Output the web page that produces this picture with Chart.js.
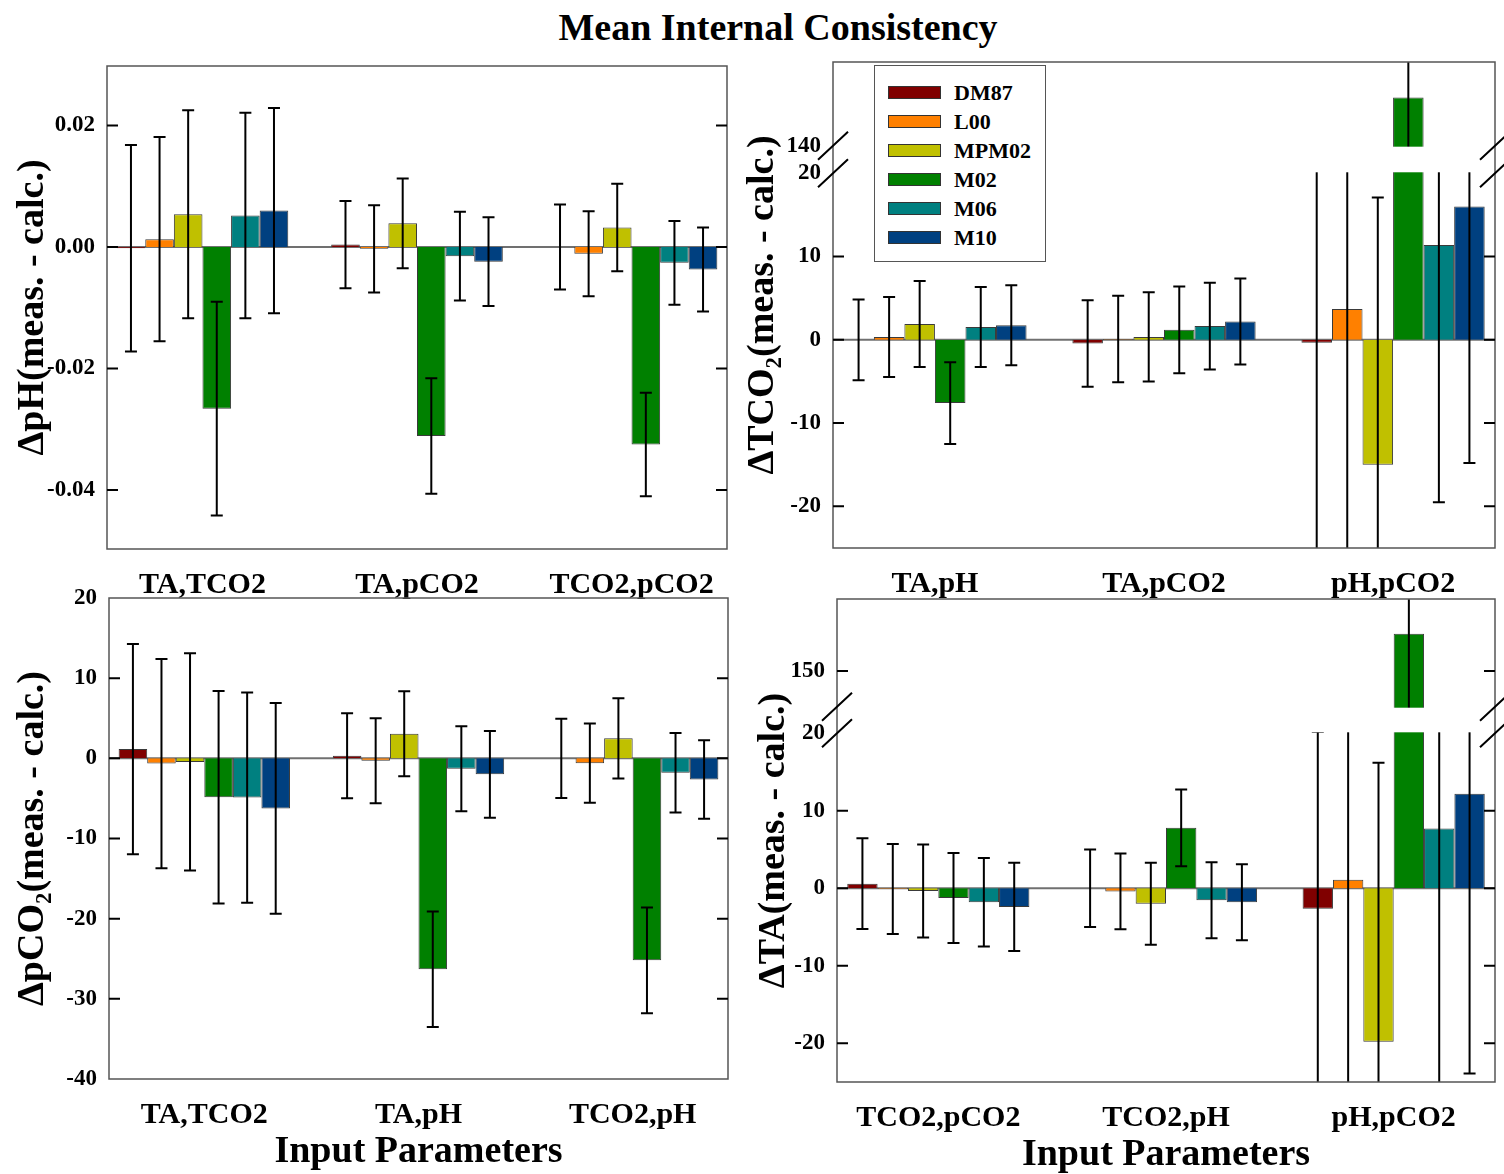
<!DOCTYPE html>
<html lang="en">
<head>
  <meta charset="UTF-8">
  <title>Mean Internal Consistency</title>
  <script src="https://cdn.jsdelivr.net/npm/chart.js"></script>
  <style>
    body {
      margin: 0;
      background: #fff;
      font-family: 'Liberation Serif', 'Times New Roman', serif;
    }
    #page {
      position: relative;
      width: 1504px;
      height: 1174px;
      overflow: hidden;
    }
    #page canvas {
      position: absolute;
    }
    #title {
      position: absolute;
      left: 528px;
      top: 8px;
      width: 500px;
      text-align: center;
      font-size: 38px;
      line-height: 38px;
      font-weight: bold;
    }
    /* legend box sits inside the top-right panel */
    #legend {
      position: absolute;
      left: 874px;
      top: 65px;
      width: 172px;
      height: 197px;
      border: 1px solid #555;
      box-sizing: border-box;
      padding-top: 12px;
      z-index: 5;
      background: #fff;
    }
    .row {
      height: 29px;
      display: flex;
      align-items: center;
      font-size: 22px;
      font-weight: bold;
    }
    .sw {
      display: inline-block;
      width: 51px;
      height: 11px;
      margin-left: 13px;
      margin-right: 13px;
      border: 1px solid #333;
    }
  </style>
</head>
<body>
<div id="page">
  <div id="title">Mean Internal Consistency</div>
  <canvas id="cPH" width="740" height="570" style="left:0;top:36px"></canvas>
  <canvas id="cTCO2" width="774" height="574" style="left:730px;top:32px"></canvas>
  <canvas id="cPCO2" width="740" height="606" style="left:0;top:568px"></canvas>
  <canvas id="cTA" width="774" height="605" style="left:730px;top:569px"></canvas>
  <div id="legend"></div>
</div>

<script>
  // ---- data (rows = series, columns = input parameter pairs) ----
  const series = ['DM87', 'L00', 'MPM02', 'M02', 'M06', 'M10'];
  const seriesColors = ['#800000', '#ff8000', '#c0c000', '#008000', '#008080', '#004080'];

  const phCats = ['TA,TCO2', 'TA,pCO2', 'TCO2,pCO2'];
  const phMean = [
    [-0.0002, 0.0004, 0.0000],
    [0.0013, -0.0003, -0.0011],
    [0.0054, 0.0039, 0.0032],
    [-0.0266, -0.0311, -0.0325],
    [0.0052, -0.0015, -0.0026],
    [0.0060, -0.0024, -0.0037]
  ];
  const phErr = [
    [0.0170, 0.0072, 0.0070],
    [0.0168, 0.0072, 0.0070],
    [0.0171, 0.0074, 0.0072],
    [0.0176, 0.0095, 0.0085],
    [0.0169, 0.0073, 0.0069],
    [0.0169, 0.0073, 0.0069]
  ];
  const phTicks = [-0.04, -0.02, 0, 0.02];
  const phTickLabels = ['-0.04', '-0.02', '0.00', '0.02'];

  const tco2Cats = ['TA,pH', 'TA,pCO2', 'pH,pCO2'];
  const tco2Mean = [
    [0.0, -0.45, -0.35],
    [0.33, 0.1, 3.7],
    [1.9, 0.35, -15.0],
    [-7.6, 1.2, 145.8],
    [1.55, 1.65, 11.4],
    [1.75, 2.2, 16.0]
  ];
  const tco2Err = [
    [4.85, 5.2, 30],
    [4.8, 5.2, 30],
    [5.15, 5.35, 32.1],
    [4.9, 5.2, 50],
    [4.8, 5.2, 30.9],
    [4.8, 5.15, 30.8]
  ];
  const tco2Ticks = [-20, -10, 0, 10, 20, 140];
  const tco2TickLabels = ['-20', '-10', '0', '10', '20', '140'];

  const pco2Cats = ['TA,TCO2', 'TA,pH', 'TCO2,pH'];
  const pco2Mean = [
    [1.15, 0.33, 0.0],
    [-0.65, -0.3, -0.6],
    [-0.45, 3.07, 2.5],
    [-4.85, -26.3, -25.2],
    [-4.9, -1.3, -1.8],
    [-6.25, -2.0, -2.65]
  ];
  const pco2Err = [
    [13.1, 5.3, 4.95],
    [13.05, 5.3, 4.95],
    [13.55, 5.3, 5.0],
    [13.25, 7.2, 6.6],
    [13.1, 5.3, 4.95],
    [13.15, 5.4, 4.9]
  ];
  const pco2Ticks = [-40, -30, -20, -10, 0, 10, 20];
  const pco2TickLabels = ['-40', '-30', '-20', '-10', '0', '10', '20'];

  const taCats = ['TCO2,pCO2', 'TCO2,pH', 'pH,pCO2'];
  const taMean = [
    [0.6, 0.0, -2.65],
    [-0.1, -0.4, 1.1],
    [-0.35, -2.0, -19.8],
    [-1.25, 7.8, 154.8],
    [-1.8, -1.55, 7.7],
    [-2.4, -1.8, 12.2]
  ];
  const taErr = [
    [5.85, 5.0, 30],
    [5.8, 4.9, 30],
    [6.0, 5.3, 36],
    [5.8, 4.95, 50],
    [5.7, 4.9, 35],
    [5.7, 4.9, 36.1]
  ];
  const taTicks = [-20, -10, 0, 10, 20, 150];
  const taTickLabels = ['-20', '-10', '0', '10', '20', '150'];

  Chart.defaults.font.family = "'Liberation Serif', 'Times New Roman', serif";
  Chart.defaults.color = '#000';

  // linear scale with a gap between a low and a high section (same units per pixel)
  class BrokenLinearScale extends Chart.LinearScale {
    _parts() {
      const b = this.options.brk;
      const units = (b.lowMax - this.min) + (this.max - b.highMin);
      const k = (this.bottom - this.top - b.gap) / units;
      return { b, k, pLow: this.bottom - (b.lowMax - this.min) * k, pHigh: this.top + (this.max - b.highMin) * k };
    }
    getPixelForValue(value) {
      if (value === null || isNaN(value)) return NaN;
      const { b, k, pLow, pHigh } = this._parts();
      if (value <= b.lowMax) return this.bottom - (value - this.min) * k;
      if (value >= b.highMin) return this.top + (this.max - value) * k;
      return pLow + (pHigh - pLow) * (value - b.lowMax) / (b.highMin - b.lowMax);
    }
    getValueForPixel(pixel) {
      const { b, k, pLow, pHigh } = this._parts();
      if (pixel >= pLow) return this.min + (this.bottom - pixel) / k;
      if (pixel <= pHigh) return this.max - (pixel - this.top) / k;
      return b.lowMax + (b.highMin - b.lowMax) * (pLow - pixel) / (pLow - pHigh);
    }
  }
  BrokenLinearScale.id = 'brokenLinear';
  BrokenLinearScale.defaults = Chart.LinearScale.defaults;
  Chart.register(BrokenLinearScale);

  // zero line, error bars, frame, inner ticks and break marks
  const panelDecor = {
    id: 'panelDecor',
    beforeDatasetsDraw(chart) {
      const { ctx, chartArea: a, scales: { y } } = chart;
      const z = y.getPixelForValue(0);
      ctx.save();
      ctx.strokeStyle = '#707070';
      ctx.lineWidth = 2;
      ctx.beginPath();
      ctx.moveTo(a.left, z);
      ctx.lineTo(a.right, z);
      ctx.stroke();
      ctx.restore();
    },
    afterDatasetsDraw(chart) {
      const { ctx, chartArea: a, scales: { y } } = chart;
      const b = y.options.brk;
      ctx.save();
      ctx.beginPath();
      ctx.rect(a.left, a.top, a.right - a.left, a.bottom - a.top);
      ctx.clip();
      ctx.strokeStyle = '#000';
      ctx.lineWidth = 2;
      chart.data.datasets.forEach((ds, d) => {
        chart.getDatasetMeta(d).data.forEach((bar, i) => {
          const v = ds.data[i].y, e = ds.errors[i];
          const hi = y.getPixelForValue(v + e), lo = y.getPixelForValue(v - e);
          ctx.beginPath();
          ctx.moveTo(bar.x, hi); ctx.lineTo(bar.x, lo);
          ctx.moveTo(bar.x - 6, hi); ctx.lineTo(bar.x + 6, hi);
          ctx.moveTo(bar.x - 6, lo); ctx.lineTo(bar.x + 6, lo);
          ctx.stroke();
        });
      });
      if (b) {
        const p1 = y.getPixelForValue(b.highMin), p2 = y.getPixelForValue(b.lowMax);
        ctx.fillStyle = '#fff';
        ctx.fillRect(a.left, p1 + 1, a.right - a.left, p2 - p1 - 2);
      }
      ctx.restore();

      ctx.save();
      ctx.strokeStyle = '#555';
      ctx.lineWidth = 1.5;
      ctx.strokeRect(a.left, a.top, a.right - a.left, a.bottom - a.top);
      ctx.strokeStyle = '#000';
      ctx.lineWidth = 2;
      ctx.beginPath();
      y.ticks.forEach(t => {
        if (b && (t.value === b.lowMax || t.value === b.highMin)) return;
        const py = y.getPixelForValue(t.value);
        if (py <= a.top + 1 || py >= a.bottom - 1) return;
        ctx.moveTo(a.left, py); ctx.lineTo(a.left + 11, py);
        ctx.moveTo(a.right - 11, py); ctx.lineTo(a.right, py);
      });
      if (b) {
        [b.highMin, b.lowMax].forEach(v => {
          const py = y.getPixelForValue(v);
          [a.left, a.right].forEach(px => {
            ctx.moveTo(px - 15, py + 14);
            ctx.lineTo(px + 15, py - 14);
          });
        });
      }
      ctx.stroke();
      ctx.restore();
    }
  };

  function makePanel(id, p) {
    const datasets = series.map((name, s) => ({
      label: name,
      data: p.cats.map((c, i) => ({ x: i, y: p.mean[s][i] })),
      errors: p.err[s],
      backgroundColor: seriesColors[s],
      borderColor: '#3a3a3a',
      borderWidth: 1,
      categoryPercentage: 0.8,
      barPercentage: 1.0,
      clip: 0
    }));
    return new Chart(document.getElementById(id), {
      type: 'bar',
      data: { datasets },
      plugins: [panelDecor],
      options: {
        responsive: false,
        animation: false,
        layout: { padding: { top: p.padTop, right: p.padRight, left: 0, bottom: 0 } },
        plugins: { legend: { display: false }, tooltip: { enabled: false } },
        scales: {
          x: {
            type: 'linear',
            offset: false,
            min: -0.445,
            max: 2.445,
            grid: { display: false, drawTicks: false, offset: false },
            border: { display: false },
            afterBuildTicks: s => { s.ticks = p.cats.map((c, i) => ({ value: i })); },
            ticks: {
              callback: (v, i) => p.cats[i],
              font: { size: 30, weight: 'bold' },
              padding: 18,
              maxRotation: 0,
              autoSkip: false
            },
            title: {
              display: !!p.xTitle,
              text: p.xTitle || '',
              font: { size: 38, weight: 'bold', lineHeight: 1 },
              padding: { top: 0, bottom: p.xTitlePad || 0 }
            },
            afterFit: s => { s.height = p.xH; }
          },
          y: {
            type: p.brk ? 'brokenLinear' : 'linear',
            min: p.min,
            max: p.max,
            brk: p.brk,
            grid: { display: false, drawTicks: false },
            border: { display: false },
            afterBuildTicks: s => { s.ticks = p.ticks.map(v => ({ value: v })); },
            ticks: {
              callback: (v, i) => p.tickLabels[i],
              font: { size: 23, weight: 'bold' },
              padding: 12,
              autoSkip: false
            },
            title: {
              display: true,
              text: p.yTitle,
              font: { size: 38, weight: 'bold', lineHeight: 1 },
              padding: { top: p.yTitlePad, bottom: 0 }
            },
            afterFit: s => { s.width = p.yW; }
          }
        }
      }
    });
  }

  makePanel('cPH', {
    cats: phCats, mean: phMean, err: phErr, ticks: phTicks, tickLabels: phTickLabels,
    min: -0.0497, max: 0.0298, yTitle: 'ΔpH(meas. - calc.)',
    padTop: 30, padRight: 13, yW: 107, xH: 57, yTitlePad: 14
  });
  makePanel('cTCO2', {
    cats: tco2Cats, mean: tco2Mean, err: tco2Err, ticks: tco2Ticks, tickLabels: tco2TickLabels,
    min: -25, max: 150.05, brk: { lowMax: 20, highMin: 140, gap: 27.6 },
    yTitle: 'ΔTCO₂(meas. - calc.)',
    padTop: 30, padRight: 9, yW: 103, xH: 58, yTitlePad: 14
  });
  makePanel('cPCO2', {
    cats: pco2Cats, mean: pco2Mean, err: pco2Err, ticks: pco2Ticks, tickLabels: pco2TickLabels,
    min: -40, max: 20, yTitle: 'ΔpCO₂(meas. - calc.)', xTitle: 'Input Parameters',
    padTop: 30, padRight: 12, yW: 109, xH: 95, yTitlePad: 14, xTitlePad: 3
  });
  makePanel('cTA', {
    cats: taCats, mean: taMean, err: taErr, ticks: taTicks, tickLabels: taTickLabels,
    min: -25, max: 159.3, brk: { lowMax: 20, highMin: 145.4, gap: 26.6 },
    yTitle: 'ΔTA(meas. - calc.)', xTitle: 'Input Parameters',
    padTop: 30, padRight: 9, yW: 107, xH: 92, yTitlePad: 25, xTitlePad: 0
  });

  // legend built from the series list
  const legend = document.getElementById('legend');
  series.forEach((name, s) => {
    const row = document.createElement('div');
    row.className = 'row';
    const sw = document.createElement('span');
    sw.className = 'sw';
    sw.style.background = seriesColors[s];
    row.appendChild(sw);
    row.appendChild(document.createTextNode(name));
    legend.appendChild(row);
  });
</script>
</body>
</html>
